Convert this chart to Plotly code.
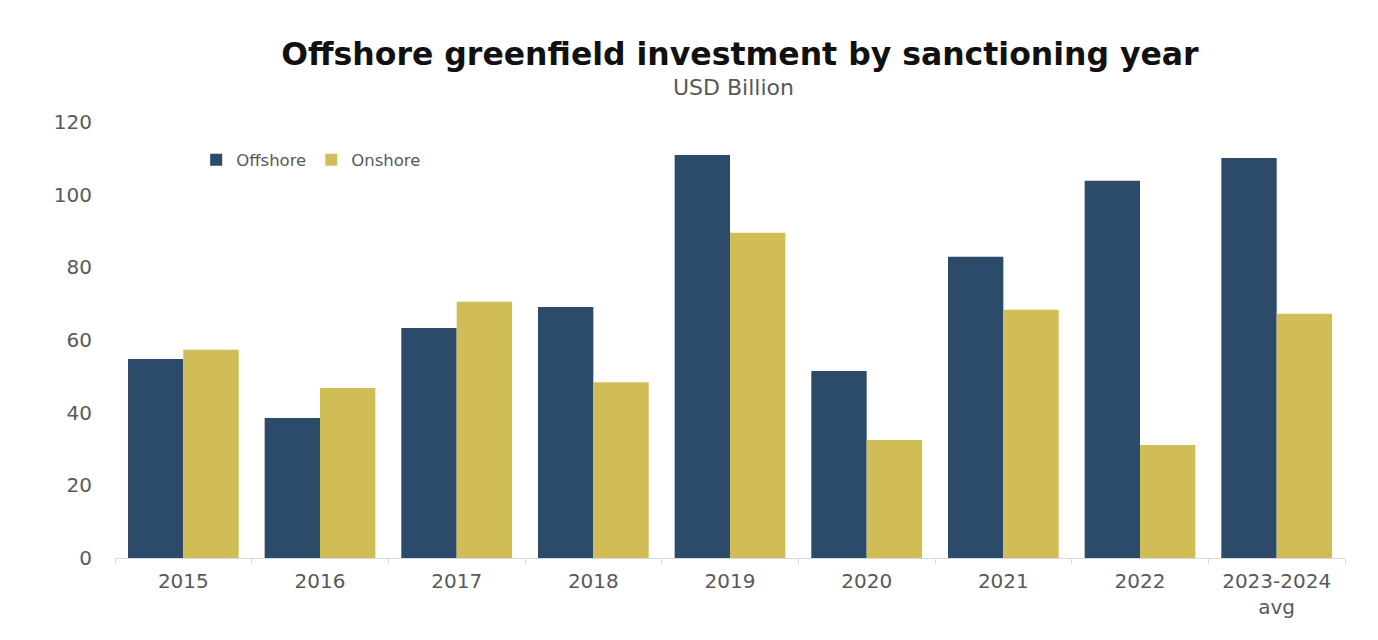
import plotly.graph_objects as go

categories = ["2015", "2016", "2017", "2018", "2019", "2020", "2021", "2022", "2023-2024<br>avg"]
offshore = [54.8, 38.5, 63.3, 69.1, 110.9, 51.5, 82.9, 103.8, 110.1]
onshore = [57.3, 46.8, 70.5, 48.4, 89.5, 32.5, 68.3, 31.1, 67.2]
y_ticks = [0, 20, 40, 60, 80, 100, 120]

fig = go.Figure()
fig.add_trace(go.Bar(x=categories, y=offshore, name="Offshore", marker_color="#2c4a6a", marker_line_width=0))
fig.add_trace(go.Bar(x=categories, y=onshore, name="Onshore", marker_color="#d1bd55", marker_line_width=0))

fig.update_layout(
    width=1378, height=640,
    margin=dict(l=115, r=33, t=122, b=82),
    paper_bgcolor="white", plot_bgcolor="white",
    barmode="group", bargap=0.19, bargroupgap=0,
    font=dict(family="DejaVu Sans, Arial, sans-serif", color="#595959"),
    title=dict(
        text="<b>Offshore greenfield investment by sanctioning year</b>",
        x=0.537, xanchor="center", y=0.915, yanchor="middle",
        font=dict(family="DejaVu Sans, Arial, sans-serif", size=31.5, color="#111111"),
    ),
    legend=dict(
        orientation="h", x=0.066, y=0.913, xanchor="left", yanchor="middle",
        font=dict(size=16.5, color="#595959"), bgcolor="rgba(0,0,0,0)",
        itemwidth=30, traceorder="normal",
    ),
    xaxis=dict(
        showline=True, linecolor="#d9d9d9", linewidth=1,
        ticks="outside", tickson="boundaries", ticklen=5, tickcolor="#d9d9d9",
        tickfont=dict(size=20, color="#595959"), showgrid=False, ticklabelstandoff=5,
    ),
    yaxis=dict(
        range=[0, 120], tickvals=y_ticks, showgrid=False, zeroline=False,
        showline=False, tickfont=dict(size=20, color="#595959"), ticklabelstandoff=22,
    ),
)

fig.add_annotation(
    text="USD Billion", xref="paper", yref="paper", x=0.503, y=1.0 + (122 - 87) / 436,
    xanchor="center", yanchor="middle", showarrow=False,
    font=dict(size=22, color="#595959"),
)

fig.write_html("out.html")
